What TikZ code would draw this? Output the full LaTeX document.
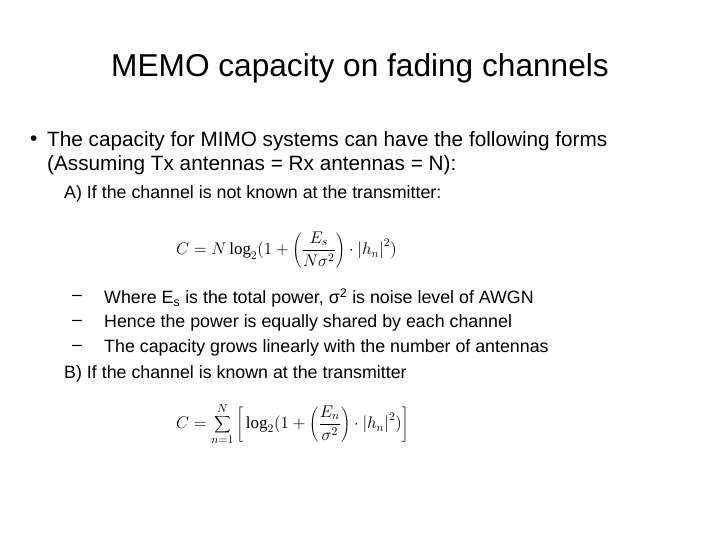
\documentclass[tikz,border=0pt]{standalone}
\usepackage{fontspec}
\setmainfont{Liberation Sans}
\newfontfamily\serifff{Liberation Serif}
\newcommand{\mylog}{\mathop{\hbox{\serifff log}}\nolimits}
\begin{document}
\begin{tikzpicture}[x=0.03cm,y=-0.03cm,
  body/.style={anchor=west,inner sep=0pt,font=\fontsize{17.7}{21}\selectfont},
  sub/.style={anchor=west,inner sep=0pt,font=\fontsize{15.2}{18}\selectfont},
  eq/.style={inner sep=0pt,font=\fontsize{14.5}{17}\selectfont}]
\useasboundingbox[fill=white] (0,0) rectangle (720,540);
\node[inner sep=0pt,font=\fontsize{27}{32}\selectfont] (title) at (360,68) {MEMO capacity on fading channels};
\node[body] (b1) at (30,141) {•};
\node[body] (l1) at (47,141) {The capacity for MIMO systems can have the following forms};
\node[body] (l2) at (47,165) {(Assuming Tx antennas = Rx antennas = N):};
\node[sub] (a) at (64,194) {A) If the channel is not known at the transmitter:};
\node[eq,anchor=west] (f1) at (176,250) {$\displaystyle C=N\mylog_2(1+\left(\frac{E_s}{N\sigma^2}\right)\cdot\left|h_n\right|^2)$};
\node[sub] (d1) at (72,298) {–};
\node[sub] (t1) at (104,298) {Where E\textsubscript{s} is the total power, σ\textsuperscript{2} is noise level of AWGN};
\node[sub] (d2) at (72,323) {–};
\node[sub] (t2) at (104,323) {Hence the power is equally shared by each channel};
\node[sub] (d3) at (72,348) {–};
\node[sub] (t3) at (104,348) {The capacity grows linearly with the number of antennas};
\node[sub] (b) at (64,374) {B) If the channel is known at the transmitter};
\node[eq,anchor=west] (f2) at (176,424) {$\displaystyle C=\sum_{n=1}^{N}\left[\,\mylog_2(1+\left(\frac{E_n}{\sigma^2}\right)\cdot\left|h_n\right|^2)\right]$};
\end{tikzpicture}
\end{document}
